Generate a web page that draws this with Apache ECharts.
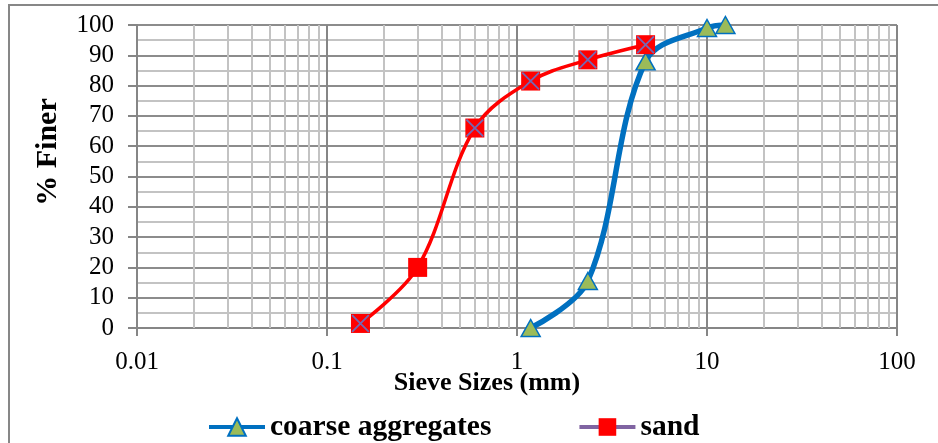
<!DOCTYPE html>
<html>
<head>
<meta charset="utf-8">
<style>html,body{margin:0;padding:0;background:#fff;}#c{width:938px;height:443px;}</style>
<script src="https://cdn.jsdelivr.net/npm/echarts@6/dist/echarts.min.js"></script>
</head>
<body>
<div id="c"></div>
<script>
// ---- data ----
var xTickLabels = ['0.01', '0.1', '1', '10', '100'];
var decades = [0.01, 0.1, 1, 10];
var coarseSizes = [1.18, 2.36, 4.75, 10, 12.5];
var coarseFiner = [0, 15.5, 88, 99, 100];
var sandSizes = [0.15, 0.3, 0.6, 1.18, 2.36, 4.75];
var sandFiner = [1.5, 20, 66, 81.5, 88.5, 93.5];
var sandCrossed = [true, false, true, true, true, true];

var FONT = 'Liberation Serif';
var minorX = [];
decades.forEach(function (d) { for (var k = 2; k <= 9; k++) minorX.push(+(d * k).toPrecision(3)); });

var coarseData = coarseSizes.map(function (x, i) { return [x, coarseFiner[i]]; });
var sandData = sandSizes.map(function (x, i) { return [x, sandFiner[i]]; });
var sandXData = sandData.filter(function (p, i) { return sandCrossed[i]; });

var chart = echarts.init(document.getElementById('c'), null, { renderer: 'canvas' });
var option = {
  animation: false,
  backgroundColor: '#fff',
  grid: { left: 137, right: 41, top: 25, bottom: 115, containLabel: false },
  xAxis: {
    type: 'log', logBase: 10, min: 0.01, max: 100,
    axisLine: { show: true, onZero: false, lineStyle: { color: '#868686', width: 2 } },
    axisTick: { show: true, inside: false, length: 8, lineStyle: { color: '#868686', width: 2 } },
    axisLabel: {
      margin: 22, color: '#000', fontFamily: FONT, fontSize: 25,
      formatter: function (v, i) { return xTickLabels[i]; }
    },
    splitLine: { show: true, lineStyle: { color: '#868686', width: 2 } },
    minorTick: { show: false }, minorSplitLine: { show: false }
  },
  yAxis: {
    type: 'value', min: 0, max: 100, interval: 10,
    axisLine: { show: true, lineStyle: { color: '#868686', width: 2 } },
    axisTick: { show: true, inside: false, length: 9, lineStyle: { color: '#868686', width: 2 } },
    axisLabel: { margin: 23, color: '#000', fontFamily: FONT, fontSize: 25 },
    splitLine: { show: true, lineStyle: { color: '#8c8c8c', width: 2 } },
    minorTick: { show: false, splitNumber: 2 },
    minorSplitLine: { show: true, lineStyle: { color: '#c3c3c3', width: 2 } }
  },
  legend: {
    left: 207, top: 412, padding: 0,
    itemWidth: 56, itemHeight: 22, itemGap: 86,
    lineStyle: { width: 4 },
    textStyle: { fontFamily: FONT, fontWeight: 'bold', fontSize: 29.5, color: '#000' },
    data: [
      { name: 'coarse aggregates', lineStyle: { color: '#0070C0', width: 4 } },
      { name: 'sand', lineStyle: { color: '#8064A2', width: 4 } }
    ]
  },
  graphic: [
    { type: 'rect', silent: true, z: 100, shape: { x: 9, y: 5, width: 1000, height: 1000 },
      style: { fill: null, stroke: '#878787', lineWidth: 2 } },
    { type: 'text', silent: true, x: 48, y: 152, rotation: Math.PI / 2,
      style: { text: '% Finer', fill: '#000', font: 'bold 30px "Liberation Serif"', textAlign: 'center', textVerticalAlign: 'middle' } },
    { type: 'text', silent: true, x: 487, y: 383,
      style: { text: 'Sieve Sizes (mm)', fill: '#000', font: 'bold 26px "Liberation Serif"', textAlign: 'center', textVerticalAlign: 'middle' } }
  ],
  series: [
    {
      name: 'minor', type: 'line', data: [], z: 1, silent: true,
      markLine: {
        z: 1, silent: true, symbol: 'none', animation: false,
        label: { show: false },
        lineStyle: { color: '#c3c3c3', width: 2, type: 'solid' },
        emphasis: { disabled: true },
        data: minorX.map(function (v) { return { xAxis: v }; })
      }
    },
    {
      name: 'coarse aggregates', type: 'line', z: 3, smooth: 0.35,
      data: coarseData,
      symbol: 'triangle', symbolSize: [19, 17],
      lineStyle: { color: '#0070C0', width: 5.5 },
      itemStyle: { color: '#9BBB59', borderColor: '#0070C0', borderWidth: 1.5 }
    },
    {
      name: 'sand', type: 'line', z: 4, smooth: 0.35,
      data: sandData,
      symbol: 'rect', symbolSize: 19,
      lineStyle: { color: '#FF0000', width: 3.5 },
      itemStyle: { color: '#FF0000', borderColor: '#FF0000', borderWidth: 0 }
    },
    {
      name: 'sandX', type: 'scatter', z: 5, silent: true,
      data: sandXData,
      symbol: 'path://M0,7 L7,0 L100,93 L93,100 Z M93,0 L100,7 L7,100 L0,93 Z',
      symbolSize: 18,
      itemStyle: { color: '#7468B4', opacity: 1 }
    }
  ]
};
chart.setOption(option);
</script>
</body>
</html>
